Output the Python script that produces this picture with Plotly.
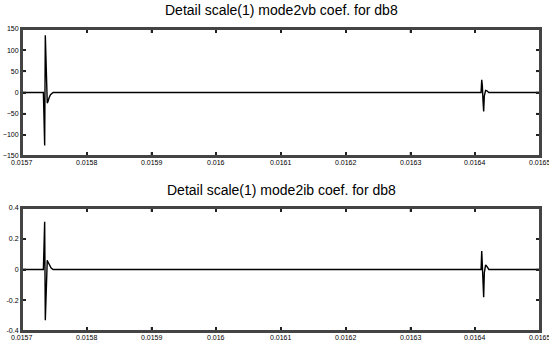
import plotly.graph_objects as go

# Data
x_top = [0.015700, 0.015733, 0.015734, 0.015735, 0.015736, 0.015737, 0.015738, 0.015739,
         0.015740, 0.015742, 0.015744, 0.015748, 0.016409, 0.016410, 0.016411, 0.016412,
         0.016413, 0.016414, 0.016416, 0.016418, 0.016421, 0.016500]
y_top = [0, 0, -60, -125, 135, 85, 20, -25, -22, -12, -5, 0, 0, 30, 15, -20, -45, -8, 5, 4, 0, 0]

x_bot = [0.015700, 0.015733, 0.015734, 0.015735, 0.015736, 0.015737, 0.015738, 0.015739,
         0.015740, 0.015742, 0.015745, 0.015748, 0.016409, 0.016410, 0.016411, 0.016412,
         0.016413, 0.016414, 0.016416, 0.016418, 0.016421, 0.016500]
y_bot = [0, 0, 0.15, 0.31, -0.33, -0.2, -0.02, 0.06, 0.05, 0.03, 0.01, 0, 0, 0.12, 0.02, -0.05,
         -0.18, -0.02, 0.03, 0.02, 0, 0]

x_ticks = [0.0157, 0.0158, 0.0159, 0.0160, 0.0161, 0.0162, 0.0163, 0.0164, 0.0165]
x_ticklabels = ["0.0157", "0.0158", "0.0159", "0.016", "0.0161", "0.0162", "0.0163", "0.0164", "0.0165"]
y_top_ticks = [-150, -100, -50, 0, 50, 100, 150]
y_bot_ticks = [-0.4, -0.2, 0, 0.2, 0.4]
y_bot_labels = ["-0.4", "-0.2", "0", "0.2", "0.4"]

title_top = "Detail scale(1) mode2vb coef. for db8"
title_bot = "Detail scale(1) mode2ib coef. for db8"

W, H = 549, 345
fig = go.Figure()
fig.add_trace(go.Scatter(x=x_top, y=y_top, mode="lines", line=dict(color="black", width=1.4),
                         xaxis="x", yaxis="y", showlegend=False, hoverinfo="skip"))
fig.add_trace(go.Scatter(x=x_bot, y=y_bot, mode="lines", line=dict(color="black", width=1.4),
                         xaxis="x2", yaxis="y2", showlegend=False, hoverinfo="skip"))

tickfont = dict(family="Liberation Sans Narrow, Arial Narrow, Liberation Sans", size=7, color="black")
axcommon = dict(showline=True, linecolor="#444", linewidth=2, mirror="ticks",
                ticks="inside", ticklen=4, tickcolor="#222", tickwidth=1.5,
                showgrid=False, zeroline=False, tickfont=tickfont, automargin=False)

xd = [22 / W, 540 / W]
top_dom = [1 - 156 / H, 1 - 29 / H]
bot_dom = [1 - 331 / H, 1 - 208 / H]
TL = 4  # tick length px

annotations = [
    dict(text=title_top, x=281 / W, y=1 - 10 / H, xref="paper", yref="paper", showarrow=False,
         font=dict(family="Liberation Sans, Arial", size=14, color="black"), yanchor="middle"),
    dict(text=title_bot, x=281 / W, y=1 - 190 / H, xref="paper", yref="paper", showarrow=False,
         font=dict(family="Liberation Sans, Arial", size=14, color="black"), yanchor="middle"),
]
shapes = []
for xr, yr, dom, yt in (("x", "y", top_dom, y_top_ticks), ("x2", "y2", bot_dom, y_bot_ticks)):
    for v, t in zip(x_ticks, x_ticklabels):
        annotations.append(dict(text=t, x=v, y=dom[0] - 1 / H, xref=xr, yref="paper",
                                showarrow=False, yanchor="top", xanchor="center",
                                font=tickfont))
        shapes.append(dict(type="line", xref=xr, yref="paper", x0=v, x1=v, y0=dom[0],
                           y1=dom[0] + TL / H, line=dict(color="#222", width=1.5)))
        shapes.append(dict(type="line", xref=xr, yref="paper", x0=v, x1=v, y0=dom[1],
                           y1=dom[1] - TL / H, line=dict(color="#222", width=1.5)))
    for v in yt:
        shapes.append(dict(type="line", xref="paper", yref=yr, x0=xd[0], x1=xd[0] + TL / W,
                           y0=v, y1=v, line=dict(color="#222", width=1.5)))
        shapes.append(dict(type="line", xref="paper", yref=yr, x0=xd[1], x1=xd[1] - TL / W,
                           y0=v, y1=v, line=dict(color="#222", width=1.5)))
    shapes.append(dict(type="rect", xref="paper", yref="paper", x0=xd[0], x1=xd[1],
                       y0=dom[0], y1=dom[1], line=dict(color="#444", width=2), layer="above"))

fig.update_layout(
    width=W, height=H, margin=dict(l=0, r=0, t=0, b=0),
    paper_bgcolor="white", plot_bgcolor="white",
    xaxis=dict(domain=xd, range=[0.0157, 0.0165], tickvals=x_ticks, showticklabels=False,
               anchor="y", **axcommon),
    yaxis=dict(domain=top_dom, range=[-150, 150], tickvals=y_top_ticks,
               anchor="x", **axcommon),
    xaxis2=dict(domain=xd, range=[0.0157, 0.0165], tickvals=x_ticks, showticklabels=False,
                anchor="y2", **axcommon),
    yaxis2=dict(domain=bot_dom, range=[-0.4, 0.4], tickvals=y_bot_ticks,
                ticktext=y_bot_labels, anchor="x2", **axcommon),
    annotations=annotations,
    shapes=shapes,
)
fig.write_html("out.html", config={"displayModeBar": False},
               post_script="document.body.style.margin='0';document.body.style.overflow='hidden';")
